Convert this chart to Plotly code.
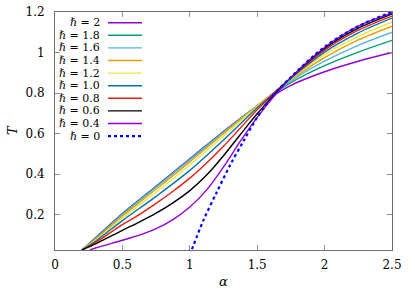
import plotly.graph_objects as go

# ---- data ----
alpha = [0.2, 0.3, 0.5, 0.75, 1.0, 1.25, 1.5, 1.75, 2.0, 2.25, 2.5]
T_h2 = [0.025, 0.085, 0.205, 0.34, 0.475, 0.61, 0.735, 0.838, 0.905, 0.957, 1.0]
T_h18 = [0.025, 0.083, 0.203, 0.338, 0.473, 0.608, 0.737, 0.851, 0.935, 1.002, 1.06]
T_h16 = [0.025, 0.08, 0.2, 0.335, 0.47, 0.606, 0.738, 0.86, 0.957, 1.035, 1.10]
T_h14 = [0.025, 0.077, 0.193, 0.325, 0.46, 0.60, 0.737, 0.866, 0.975, 1.062, 1.13]
T_h12 = [0.025, 0.073, 0.182, 0.31, 0.445, 0.588, 0.733, 0.87, 0.99, 1.08, 1.15]
T_h10 = [0.025, 0.068, 0.17, 0.29, 0.418, 0.568, 0.727, 0.873, 1.002, 1.097, 1.17]

alpha_fine = [0.2, 0.3, 0.5, 0.625, 0.75, 0.875, 1.0, 1.125, 1.25, 1.375, 1.5, 1.75, 2.0, 2.25, 2.5]
T_h08 = [0.025, 0.062, 0.15, 0.2, 0.255, 0.315, 0.38, 0.455, 0.537, 0.627, 0.717, 0.875, 1.012, 1.11, 1.18]
T_h06 = [0.025, 0.055, 0.122, 0.163, 0.207, 0.258, 0.318, 0.395, 0.49, 0.595, 0.698, 0.877, 1.02, 1.12, 1.19]

alpha_h04 = [0.26, 0.3, 0.5, 0.625, 0.75, 0.875, 1.0, 1.125, 1.25, 1.375, 1.5, 1.75, 2.0, 2.25, 2.5]
T_h04 = [0.025, 0.035, 0.073, 0.098, 0.13, 0.175, 0.237, 0.322, 0.435, 0.562, 0.68, 0.876, 1.025, 1.13, 1.195]

alpha_h0 = [1.0, 1.1, 1.2, 1.3, 1.4, 1.5, 1.6, 1.75, 2.0, 2.25, 2.5]
T_h0 = [0.0, 0.17, 0.31, 0.445, 0.565, 0.68, 0.775, 0.878, 1.028, 1.13, 1.2]

x_ticks = [0, 0.5, 1, 1.5, 2, 2.5]
x_ticklabels = ["0", "0.5", "1", "1.5", "2", "2.5"]
y_ticks = [0.2, 0.4, 0.6, 0.8, 1.0, 1.2]
y_ticklabels = ["0.2", "0.4", "0.6", "0.8", "1", "1.2"]

colors = ["#9400d3", "#009e73", "#56b4e9", "#e69f00", "#f0e442",
          "#0072b2", "#e51e10", "#000000", "#9400d3", "#0000ff"]

series = [
    ("2", alpha, T_h2), ("1.8", alpha, T_h18), ("1.6", alpha, T_h16),
    ("1.4", alpha, T_h14), ("1.2", alpha, T_h12), ("1.0", alpha, T_h10),
    ("0.8", alpha_fine, T_h08), ("0.6", alpha_fine, T_h06),
    ("0.4", alpha_h04, T_h04), ("0", alpha_h0, T_h0),
]

# ---- figure ----
W, H = 415, 291
L, Tm = 55, 12
pw, ph = 392 - 55, 250 - 12
R = W - L - pw
B = H - Tm - ph
fig = go.Figure()

FONT = "DejaVu Serif, Liberation Serif, serif"


def px2paper(x):
    return (x - 55) / pw


def py2paper(y):
    return (250 - y) / ph


for i, (lab, xs, ys) in enumerate(series):
    dashed = (lab == "0")
    fig.add_trace(go.Scatter(
        x=xs, y=ys, mode="lines", name="ℏ = " + lab,
        line=dict(color=colors[i], width=2.2 if dashed else 1.4,
                  dash="3px,3px" if dashed else "solid",
                  shape="spline", smoothing=0.9),
        showlegend=False, hoverinfo="skip",
    ))

# gnuplot-style legend: text right-aligned, sample to the right
for i, (lab, xs, ys) in enumerate(series):
    yp = py2paper(22.7 + i * 12.6)
    fig.add_annotation(
        x=px2paper(101), y=yp, xref="paper", yref="paper",
        text="<i>ℏ</i>&nbsp;= " + lab, showarrow=False,
        xanchor="right", yanchor="middle", height=11, valign="middle",
        borderpad=0,
        font=dict(family=FONT, size=11, color="#000"),
    )
    dashed = (lab == "0")
    fig.add_shape(
        type="line", xref="paper", yref="paper",
        x0=px2paper(108), x1=px2paper(142), y0=yp, y1=yp,
        line=dict(color=colors[i], width=2.2 if dashed else 1.4,
                  dash="3px,3px" if dashed else "solid"),
    )

# axis titles as annotations
fig.add_annotation(x=px2paper(223), y=py2paper(281), xref="paper", yref="paper",
                   text="<i>α</i>", showarrow=False, xanchor="center", yanchor="middle",
                   font=dict(family=FONT, size=13, color="#000"))
fig.add_annotation(x=px2paper(12), y=py2paper(130), xref="paper", yref="paper",
                   text="<i>T</i>", showarrow=False, xanchor="center", yanchor="middle",
                   textangle=-90, font=dict(family=FONT, size=13, color="#000"))

axis_common = dict(
    showgrid=False, zeroline=False, showline=True, linecolor="#707070",
    linewidth=1, mirror="ticks", ticks="inside", ticklen=5,
    tickcolor="#909090", tickwidth=1, automargin=False,
    ticklabeloverflow="allow",
    tickfont=dict(family=FONT, size=12, color="#000"),
)

fig.update_xaxes(
    range=[0, 2.5], tickvals=x_ticks, ticktext=x_ticklabels,
    ticklabelstandoff=4,
    **axis_common,
)
fig.update_yaxes(
    range=[0.025, 1.2], tickvals=y_ticks, ticktext=y_ticklabels,
    ticklabelstandoff=7,
    **axis_common,
)

fig.update_layout(
    width=W, height=H,
    margin=dict(l=L, r=R, t=Tm, b=B, pad=0, autoexpand=False),
    plot_bgcolor="white", paper_bgcolor="white",
    showlegend=False,
)

fig.write_html("out.html",
               config={"displayModeBar": False},
               post_script="document.body.style.margin='0px';document.body.style.overflow='hidden';")
